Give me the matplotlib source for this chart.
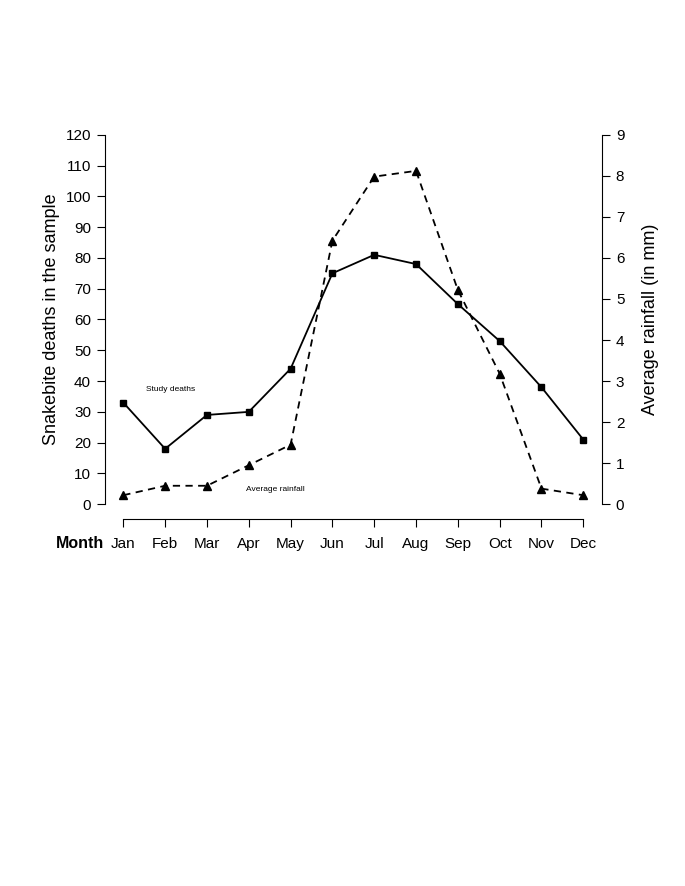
import matplotlib
matplotlib.use("Agg")
import matplotlib.pyplot as plt

plt.rcParams['font.family'] = ['Liberation Sans', 'DejaVu Sans']

# datos
months = ["Jan", "Feb", "Mar", "Apr", "May", "Jun",
          "Jul", "Aug", "Sep", "Oct", "Nov", "Dec"]
deaths = [33, 18, 29, 30, 44, 75, 81, 78, 65, 53, 38, 21]
rainfall = [0.22, 0.45, 0.45, 0.95, 1.45, 6.42, 7.98, 8.12, 5.22, 3.18, 0.38, 0.22]
left_ticks = list(range(0, 121, 10))
right_ticks = list(range(0, 10))

fig = plt.figure(figsize=(6.85, 8.86), dpi=100)
ax = fig.add_axes([0.1533, 0.4142, 0.7255, 0.4504])
ax2 = ax.twinx()

x = list(range(len(months)))

# muertes: linea continua con cuadrados
ax.plot(x, deaths, color='black', lw=1.3, marker='s', ms=5, ls='-')
# lluvia: linea discontinua con triangulos
ax2.plot(x, rainfall, color='black', lw=1.3, marker='^', ms=5.5, ls=(0, (4, 3)))

ax.set_xlim(-0.438, 11.447)
ax.set_ylim(-4.8, 124.8)
ax2.set_ylim(-0.36, 9.36)

ax.set_xticks(x)
ax.set_xticklabels(months, fontsize=11)
ax.set_yticks(left_ticks)
ax.set_yticklabels([str(t) for t in left_ticks], fontsize=11)
ax2.set_yticks(right_ticks)
ax2.set_yticklabels([str(t) for t in right_ticks], fontsize=11)

for a in (ax, ax2):
    a.spines['top'].set_visible(False)
    for s in a.spines.values():
        s.set_linewidth(0.8)
    a.tick_params(axis='y', length=6, width=0.8, pad=4)
ax.tick_params(axis='x', length=6, width=0.8, pad=7)

ax.spines['right'].set_visible(False)
ax.spines['left'].set_bounds(0, 120)
ax.spines['bottom'].set_bounds(0, 11)
ax2.spines['left'].set_visible(False)
ax2.spines['bottom'].set_visible(False)
ax2.spines['right'].set_bounds(0, 9)

ax.set_ylabel("Snakebite deaths in the sample", fontsize=13, labelpad=4)
ax2.set_ylabel("Average rainfall (in mm)", fontsize=13, labelpad=13)

# etiqueta del eje x a la izquierda de los meses
ax.text(-0.46, -0.061, "Month", transform=ax.get_xaxis_transform(),
        fontsize=11.5, fontweight='bold', ha='right', va='center')

ax.text(1.12, 37.4, "Study deaths", fontsize=6, ha='center', va='center')
ax.text(3.63, 4.9, "Average rainfall", fontsize=6, ha='center', va='center')

fig.savefig("out.png", dpi=100)
